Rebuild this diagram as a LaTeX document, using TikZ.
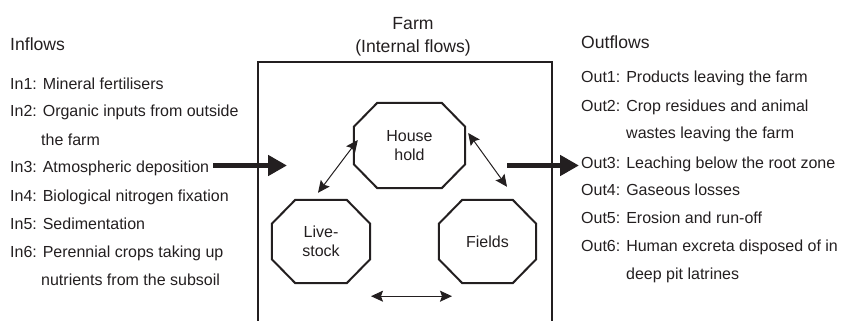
\documentclass[tikz,border=0pt]{standalone}
\usepackage{fontspec}
\setmainfont{Liberation Sans}
\usetikzlibrary{arrows.meta,calc}
\definecolor{ink}{HTML}{231F20}
\begin{document}
\begin{tikzpicture}[x=1pt,y=-1pt,
  every node/.style={text=ink,font=\fontsize{16}{19}\selectfont},
  lbl/.style={anchor=base west,inner sep=0pt},
  headfont/.style={font=\fontsize{17.6}{20}\selectfont},
  head/.style={anchor=base,inner sep=0pt,headfont},
  farmbox/.style={draw=ink,line width=1.3pt},
  octnode/.style={inner sep=0pt,align=center},
  octline/.style={draw=ink,line width=2pt,line join=miter},
  biarrow/.style={draw=ink,line width=1pt,{Stealth[length=12pt,width=11pt,inset=2pt]}-{Stealth[length=12pt,width=11pt,inset=2pt]}},
  flowarrow/.style={draw=ink,line width=5.7pt,-{Triangle[length=19pt,width=20pt]}}]
\useasboundingbox (0,0) rectangle (844,321);

% headings
\node[lbl,headfont] (inhead) at (10,51) {Inflows};
\node[lbl,headfont] (outhead) at (581,49) {Outflows};
\node[head] (farm) at (413,30) {Farm};
\node[head] (internal) at (413,53) {(Internal flows)};

% farm boundary, open at the bottom
\draw[farmbox] (258,321) -- (258,62) -- (552,62) -- (552,321);

% inflow list
\node[lbl] (in1) at (10,89) {In1: Mineral fertilisers};
\node[lbl] (in2) at (10,117) {In2: Organic inputs from outside};
\node[lbl] (in2b) at (41,145) {the farm};
\node[lbl] (in3) at (10,172) {In3: Atmospheric deposition};
\node[lbl] (in4) at (10,201) {In4: Biological nitrogen fixation};
\node[lbl] (in5) at (10,229) {In5: Sedimentation};
\node[lbl] (in6) at (10,257) {In6: Perennial crops taking up};
\node[lbl] (in6b) at (41,285) {nutrients from the subsoil};

% outflow list
\node[lbl] (out1) at (581,83) {Out1: Products leaving the farm};
\node[lbl] (out2) at (581,111) {Out2: Crop residues and animal};
\node[lbl] (out2b) at (626,139) {wastes leaving the farm};
\node[lbl] (out3) at (581,168) {Out3: Leaching below the root zone};
\node[lbl] (out4) at (581,195) {Out4: Gaseous losses};
\node[lbl] (out5) at (581,223) {Out5: Erosion and run-off};
\node[lbl] (out6) at (581,251) {Out6: Human excreta disposed of in};
\node[lbl] (out6b) at (626,279) {deep pit latrines};

% farm components
\node[octnode,minimum width=111pt,minimum height=85pt] (hh) at (409.5,145.5) {House\\hold};
\node[octnode,minimum width=98pt,minimum height=83pt] (ls) at (321,241.5) {Live-\\stock};
\node[octnode,minimum width=97pt,minimum height=83pt] (fd) at (487.5,241.5) {Fields};

\foreach \n in {hh,ls,fd}
  \draw[octline]
    ([xshift=23.5pt]\n.north west) -- ([xshift=-23.5pt]\n.north east) --
    ([yshift=-24pt]\n.north east) -- ([yshift=24pt]\n.south east) --
    ([xshift=-23.5pt]\n.south east) -- ([xshift=23.5pt]\n.south west) --
    ([yshift=24pt]\n.south west) -- ([yshift=-24pt]\n.north west) -- cycle;

% internal flows
\draw[biarrow] ([shift={(4,-5.5)}]hh.west) -- ([shift={(-3,-7)}]ls.north);
\draw[biarrow] ([shift={(3,-12.5)}]hh.east) -- ([shift={(19.5,-13)}]fd.north);
\draw[biarrow] ([shift={(50,13)}]ls.south) -- ([shift={(-35.5,13)}]fd.south);

% flows across the farm boundary
\coordinate (inTip) at (287,165.5);
\coordinate (outStart) at (507,165.5);
\draw[flowarrow] ([xshift=4pt]in3.east |- inTip) -- (inTip);
\draw[flowarrow] (outStart) -- ([xshift=-2pt]out3.west |- outStart);
\end{tikzpicture}
\end{document}
